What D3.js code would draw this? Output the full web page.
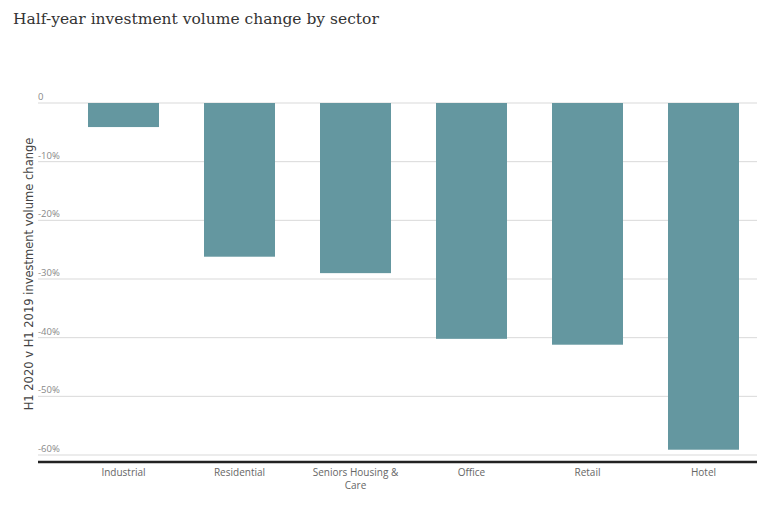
<!DOCTYPE html>
<html>
<head>
<meta charset="utf-8">
<script src="https://cdn.jsdelivr.net/npm/d3@7"></script>
<style>
  body { margin: 0; background: #fff; }
  svg { display: block; }
</style>
</head>
<body>
<svg id="chart" width="779" height="506"></svg>
<script>
// sector data
var sectors = ["Industrial", "Residential", "Seniors Housing & Care", "Office", "Retail", "Hotel"]
var changes = [-4.1, -26.2, -29.0, -40.2, -41.2, -59.1]
var yTicks = [0, -10, -20, -30, -40, -50, -60]
var yTickLabels = ["0", "-10%", "-20%", "-30%", "-40%", "-50%", "-60%"]

var svg = d3.select("#chart")
var left = 38, right = 757

// title
svg.append("text")
  .attr("x", 13).attr("y", 24)
  .attr("font-family", "DejaVu Serif, serif")
  .attr("font-size", 15.5)
  .attr("fill", "#333")
  .text("Half-year investment volume change by sector")

var yScale = d3.scaleLinear().domain([0, -60]).range([103, 455])
var xScale = d3.scaleBand().domain(sectors)
  .range([65.5, 761.5]).paddingInner(0.388).paddingOuter(0.194)

// gridlines + tick labels
var grid = svg.append("g")
grid.selectAll("line").data(yTicks).enter().append("line")
  .attr("x1", left).attr("x2", right)
  .attr("y1", d => yScale(d)).attr("y2", d => yScale(d))
  .attr("stroke", "#d9d9d9").attr("stroke-width", 1)
grid.selectAll("text").data(yTicks).enter().append("text")
  .attr("x", left).attr("y", d => yScale(d) - 3)
  .attr("font-family", "Open Sans, sans-serif")
  .attr("font-size", 9.5)
  .attr("fill", "#888")
  .text((d, i) => yTickLabels[i])

// bars
svg.append("g").selectAll("rect").data(changes).enter().append("rect")
  .attr("x", (d, i) => xScale(sectors[i]))
  .attr("width", xScale.bandwidth())
  .attr("y", yScale(0))
  .attr("height", d => yScale(d) - yScale(0))
  .attr("fill", "#6497a0")

// baseline
svg.append("line")
  .attr("x1", left).attr("x2", right)
  .attr("y1", 462).attr("y2", 462)
  .attr("stroke", "#222").attr("stroke-width", 2.5)

// category labels (wrap long ones)
var xAxis = svg.append("g")
sectors.forEach(function(name) {
  var lines = name == "Seniors Housing & Care" ? ["Seniors Housing &", "Care"] : [name]
  var t = xAxis.append("text")
    .attr("x", xScale(name) + xScale.bandwidth() / 2)
    .attr("y", 476)
    .attr("text-anchor", "middle")
    .attr("font-family", "Open Sans, sans-serif")
    .attr("font-size", 10)
    .attr("fill", "#666")
  lines.forEach(function(l, i) {
    t.append("tspan").attr("x", xScale(name) + xScale.bandwidth() / 2)
      .attr("dy", i == 0 ? 0 : 13).text(l)
  })
})

// y axis title
svg.append("text")
  .attr("transform", "translate(33,274) rotate(-90)")
  .attr("text-anchor", "middle")
  .attr("font-family", "DejaVu Sans, sans-serif")
  .attr("font-size", 11.5)
  .attr("fill", "#444")
  .text("H1 2020 v H1 2019 investment volume change")
</script>
</body>
</html>
